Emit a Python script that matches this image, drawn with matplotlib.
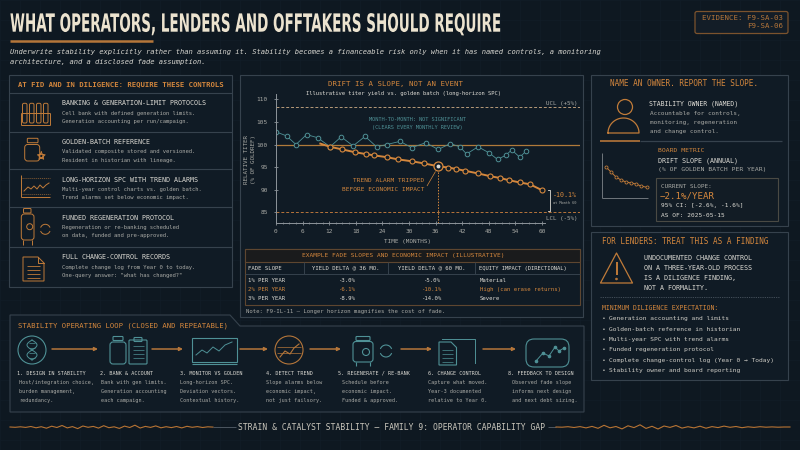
import numpy as np
import matplotlib
matplotlib.use('Agg')
import matplotlib.pyplot as plt
from matplotlib import patches, patheffects, transforms

# ---- values ----
mtm_months = [0, 2.4, 4.5, 6.9, 9.4, 12.2, 14.7, 17.4, 20.1, 22.7, 25, 28, 30.6, 33.8,
              36.6, 39.3, 41.5, 43, 45.6, 48, 50, 51.8, 53.2, 55, 56.4]
mtm_titer = [102.8, 101.9, 100.0, 102.2, 101.5, 99.5, 101.7, 99.7, 101.8, 99.5, 100.0, 100.7, 99.3, 100.4,
             98.9, 100.2, 99.5, 97.9, 99.5, 98.2, 96.7, 97.6, 98.8, 97.2, 98.5]

drift_months = [10, 12.2, 15, 17.8, 20.2, 22.1, 25, 27.6, 30.6, 33.5, 36.5, 38.9, 40.6,
                42.6, 45.6, 48.3, 50.5, 52.6, 55, 57.3, 60]
drift_titer = [100.2, 99.5, 98.9, 98.3, 97.9, 97.6, 97.2, 96.7, 96.3, 95.8, 95.2, 94.9, 94.6,
               94.2, 93.6, 93.0, 92.6, 92.1, 91.6, 91.2, 89.9]

alarm_month = 36.5
alarm_titer = 95.2
ucl_level = 108.3
gold_level = 100.0
lcl_level = 85.0
x_ticks = [0, 6, 12, 18, 24, 30, 36, 42, 48, 54, 60]
y_ticks = [85, 90, 95, 100, 105, 110]

table_cols = ['FADE SLOPE', 'YIELD DELTA @ 36 MO.', 'YIELD DELTA @ 60 MO.', 'EQUITY IMPACT (DIRECTIONAL)']
fade_slopes = ['1% PER YEAR', '2% PER YEAR', '3% PER YEAR']
delta_36 = ['-3.0%', '-6.1%', '-8.9%']
delta_60 = ['-5.0%', '-10.1%', '-14.0%']
equity_impact = ['Material', 'High (can erase returns)', 'Severe']

controls = [
    ('BANKING & GENERATION-LIMIT PROTOCOLS', 'Cell bank with defined generation limits.', 'Generation accounting per run/campaign.'),
    ('GOLDEN-BATCH REFERENCE', 'Validated composite stored and versioned.', 'Resident in historian with lineage.'),
    ('LONG-HORIZON SPC WITH TREND ALARMS', 'Multi-year control charts vs. golden batch.', 'Trend alarms set below economic impact.'),
    ('FUNDED REGENERATION PROTOCOL', 'Regeneration or re-banking scheduled', 'on data, funded and pre-approved.'),
    ('FULL CHANGE-CONTROL RECORDS', 'Complete change log from Year 0 to today.', 'One-query answer: "what has changed?"'),
]

loop_steps = [
    ('1. DESIGN IN STABILITY', ['Host/integration choice,', 'burden management,', 'redundancy.']),
    ('2. BANK & ACCOUNT', ['Bank with gen limits.', 'Generation accounting', 'each campaign.']),
    ('3. MONITOR VS GOLDEN', ['Long-horizon SPC.', 'Deviation vectors.', 'Contextual history.']),
    ('4. DETECT TREND', ['Slope alarms below', 'economic impact,', 'not just failsory.']),
    ('5. REGENERATE / RE-BANK', ['Schedule before', 'economic impact.', 'Funded & approved.']),
    ('6. CHANGE CONTROL', ['Capture what moved.', 'Year-3 documented', 'relative to Year 0.']),
    ('8. FEEDBACK TO DESIGN', ['Observed fade slope', 'informs next design', 'and next debt sizing.']),
]

diligence_items = [
    'Generation accounting and limits',
    'Golden-batch reference in historian',
    'Multi-year SPC with trend alarms',
    'Funded regeneration protocol',
    'Complete change-control log (Year 0 \u2192 Today)',
    'Stability owner and board reporting',
]

wave_left = [0, 0.3, -0.2, 0.4, -0.5, 0.8, -0.3, 1.2, -0.8, 0.5, -1.5, 0.9, -0.4, 1.6, -1.0, 0.3,
             -0.6, 1.1, -1.3, 0.7, -0.2, 1.4, -0.9, 0.5, -1.8, 1.0, -0.6, 0.4, -1.1, 0.8, -0.3, 0.6,
             -0.5, 0.9, -0.7, 0.3, -0.4, 0.5, -0.2, 0.1]
wave_right = [0, 0.2, -0.3, 0.5, -0.4, 0.9, -0.6, 1.3, -1.7, 0.8, -0.5, 1.9, -1.2, 0.6, -2.2, 1.4,
              -0.7, 2.0, -1.0, 0.4, -1.5, 1.1, -0.3, 0.9, -0.8, 1.2, -0.4, 0.6, -0.9, 0.3, -0.5, 0.7,
              -0.2, 0.4, -0.3, 0.2, -0.1, 0.2, 0, 0]

# ---- colours ----
BG = '#0e1821'
PANEL = '#101b25'
EDGE = '#36424d'
ORANGE = '#d4873d'
ORANGE_D = '#b5763a'
CREAM = '#ece3cf'
WHITE = '#dedcd5'
GRAY = '#a9aaa5'
TEAL = '#4f9196'
MONO = ['DejaVu Sans Mono', 'DejaVu Sans']

fig = plt.figure(figsize=(8, 4.5), dpi=100)
fig.patch.set_facecolor(BG)
bg = fig.add_axes([0, 0, 1, 1])
bg.set_xlim(0, 800)
bg.set_ylim(450, 0)
bg.axis('off')
bg.set_zorder(0)


def txt(x, y, s, size, color=WHITE, ha='left', va='center', **kw):
    return bg.text(x, y, s, fontsize=size, color=color, ha=ha, va=va, family=MONO, **kw)


def line(xs, ys, c=EDGE, lw=0.8, ls='-', z=2):
    bg.plot(xs, ys, color=c, lw=lw, ls=ls, zorder=z, solid_capstyle='butt')


def rect(x0, y0, x1, y1, ec=EDGE, fc='none', lw=0.8, z=1):
    bg.add_patch(patches.Rectangle((x0, y0), x1 - x0, y1 - y0, ec=ec, fc=fc, lw=lw, zorder=z))


def rrect(x0, y0, x1, y1, r, ec, fc='none', lw=0.8, z=3):
    bg.add_patch(patches.FancyBboxPatch((x0, y0), x1 - x0, y1 - y0, boxstyle='round,pad=0,rounding_size=%g' % r,
                                        ec=ec, fc=fc, lw=lw, zorder=z))


def circ(cx, cy, r, ec, fc='none', lw=0.8, z=3):
    bg.add_patch(patches.Circle((cx, cy), r, ec=ec, fc=fc, lw=lw, zorder=z))


class Stretch(patheffects.AbstractPathEffect):
    # stretches glyphs about the baseline (condensed headline look)
    def __init__(self, sx=1.0, sy=1.0):
        super().__init__()
        self.sx, self.sy = sx, sy

    def draw_path(self, renderer, gc, tpath, affine, rgbFace=None):
        renderer.draw_path(gc, tpath, transforms.Affine2D().scale(self.sx, self.sy) + affine, rgbFace)


# faint blueprint grid
for gx in range(0, 801, 20):
    line([gx, gx], [0, 450], c='#121e29', lw=0.4, z=0)
for gy in range(0, 451, 20):
    line([0, 800], [gy, gy], c='#121e29', lw=0.4, z=0)

# ---- header ----
title = bg.text(10, 31.7, 'WHAT OPERATORS, LENDERS AND OFFTAKERS SHOULD REQUIRE', fontsize=10,
                family='DejaVu Sans', weight='bold', color=CREAM, ha='left', va='baseline')
line([10, 153], [40.7, 40.7], c=ORANGE_D, lw=1.8)
txt(10, 51.7, 'Underwrite stability explicitly rather than assuming it. Stability becomes a financeable '
    'risk only when it has named controls, a monitoring', 5.1, color='#d6d5cf', style='oblique')
txt(10, 61.7, 'architecture, and a disclosed fade assumption.', 5.1, color='#d6d5cf', style='oblique')
rrect(695, 11.5, 788, 33.5, 2, '#7c532d', fc='#131d27', lw=0.9)
txt(783, 17.5, 'EVIDENCE: F9-SA-03', 5.3, color=ORANGE_D, ha='right')
txt(783, 26.5, 'F9-SA-06', 5.3, color=ORANGE_D, ha='right')

# ---- left panel: controls ----
rect(9, 75, 232, 287, fc=PANEL)
txt(120.5, 84, 'AT FID AND IN DILIGENCE: REQUIRE THESE CONTROLS', 5.2, color=ORANGE, ha='center', weight='bold')
row_tops = [93, 132, 169, 207, 247]
for yy in row_tops:
    line([9, 232], [yy, yy])
title_y = [103, 142, 179.5, 217.5, 257]
for (t, d1, d2), ty in zip(controls, title_y):
    txt(62, ty, t, 4.75, color=WHITE)
    txt(62, ty + 10, d1, 4.0, color=GRAY)
    txt(62, ty + 18.5, d2, 4.0, color=GRAY)

OC = '#c07b39'
# tubes in a rack
for tx in [22.5, 29.5, 36.5, 43.5]:
    rrect(tx, 103.3, tx + 4.5, 123, 1.5, OC, lw=0.7)
line([20.5, 49.7], [113, 113], c=OC, lw=0.7)
line([20.5, 49.7], [125, 125], c=OC, lw=0.7)
line([20.5, 20.5], [113, 125], c=OC, lw=0.7)
line([49.7, 49.7], [113, 125], c=OC, lw=0.7)
# bottle with star
rrect(27.3, 138.3, 38, 142.7, 0.8, OC, lw=0.7)
rrect(24.7, 144.5, 39.7, 161, 3, OC, lw=0.7)
star_ang = np.linspace(-np.pi / 2, 3.5 * np.pi, 11)
star_r = np.array([4, 1.7] * 5 + [4])
bg.plot(41.3 + star_r * np.cos(star_ang), 156 + star_r * np.sin(star_ang), color=OC, lw=0.7, zorder=3)
# trend chart
line([20.7, 20.7], [175, 197.3], c=OC, lw=0.7)
line([20.7, 50], [197.3, 197.3], c=OC, lw=0.7)
line([22, 50], [178, 178], c=OC, lw=0.4, ls=(0, (2, 1.5)))
line([22, 50], [194, 194], c=OC, lw=0.4, ls=(0, (2, 1.5)))
bg.plot([24, 28, 31, 34, 37, 40, 43, 46, 49], [191, 187, 189, 186, 189, 185, 188, 185, 183], color=OC, lw=0.7, zorder=3)
# reactor + refresh
rrect(23.5, 208.5, 31, 213, 0.8, OC, lw=0.7)
rrect(21.3, 214, 34, 240, 3, OC, lw=0.7)
circ(29.7, 226.7, 3, OC, lw=0.7)
line([23, 23], [240, 245], c=OC, lw=0.7)
line([32, 32], [240, 245], c=OC, lw=0.7)
bg.add_patch(patches.Arc((45.3, 229.3), 10, 10, theta1=20, theta2=160, ec=OC, lw=0.7, zorder=3))
bg.add_patch(patches.Arc((45.3, 229.3), 10, 10, theta1=200, theta2=340, ec=OC, lw=0.7, zorder=3))
# document
bg.add_patch(patches.Polygon([(23, 257), (38, 257), (44, 263), (44, 281), (23, 281)], closed=True,
                             ec=OC, fc='none', lw=0.7, zorder=3))
bg.plot([38, 38, 44], [257, 263, 263], color=OC, lw=0.7, zorder=3)
for ly in [266, 270, 274, 278]:
    line([27, 40], [ly, ly], c=OC, lw=0.6)

# ---- middle panel: drift chart ----
rect(240, 75, 583, 317, fc=PANEL)
txt(395.5, 84, 'DRIFT IS A SLOPE, NOT AN EVENT', 5.3, color=ORANGE, ha='center')
txt(403.6, 94, 'Illustrative titer yield vs. golden batch (long-horizon SPC)', 4.0, color=WHITE, ha='center')

ax = fig.add_axes([276 / 800, 1 - 222.7 / 450, 304 / 800, (222.7 - 93.9) / 450])
ax.set_zorder(1)
ax.patch.set_visible(False)
ax.set_xlim(0, 68.6)
ax.set_ylim(82.7, 111.2)
for s in ['top', 'right']:
    ax.spines[s].set_visible(False)
for s in ['left', 'bottom']:
    ax.spines[s].set_color('#8d949a')
    ax.spines[s].set_linewidth(0.7)
ax.spines['bottom'].set_bounds(0, 60.8)
ax.set_xticks(x_ticks)
ax.set_xticks(np.arange(0, 61, 1.5), minor=True)
ax.set_yticks(y_ticks)
ax.tick_params(axis='both', which='major', labelsize=4.4, labelcolor=GRAY, color='#8d949a',
               length=2.5, width=0.6, direction='inout')
ax.tick_params(axis='x', which='minor', length=1.8, width=0.5, direction='inout', color='#8d949a')
ax.tick_params(axis='x', pad=3)
ax.tick_params(axis='y', pad=4.5)
for lab in ax.get_xticklabels() + ax.get_yticklabels():
    lab.set_family(MONO)

ax.axhline(ucl_level, color='#b79a79', lw=0.7, ls=(0, (3, 2)))
ax.axhline(lcl_level, color='#b8743a', lw=0.7, ls=(0, (3, 2)))
ax.axhline(gold_level, color='#b07a3a', lw=0.9)
ax.plot(mtm_months, mtm_titer, color=TEAL, lw=0.6, marker='o', ms=3.3, mfc=PANEL, mec=TEAL, mew=0.7)
ax.plot(drift_months, drift_titer, color=ORANGE, lw=1.4, marker='o', ms=3.6, mfc=PANEL, mec=ORANGE,
        mew=0.8, markevery=list(range(1, len(drift_months))))
ax.plot([alarm_month, alarm_month], [82.7, alarm_titer], color=ORANGE, lw=0.7, ls=(0, (1.5, 1.5)))
ax.plot([alarm_month], [alarm_titer], marker='o', ms=6.5, mfc=PANEL, mec=ORANGE, mew=0.9)
ax.plot([alarm_month], [alarm_titer], marker='o', ms=1.8, mfc=WHITE, mec=WHITE)
ax.plot([61.4, 61.8, 61.8, 61.4], [drift_titer[-1], drift_titer[-1], lcl_level + 0.2, lcl_level + 0.2],
        color=WHITE, lw=0.6)

txt(417.5, 119.3, 'MONTH-TO-MONTH: NOT SIGNIFICANT', 3.8, color=TEAL, ha='center')
txt(417.5, 127.3, '(CLEARS EVERY MONTHLY REVIEW)', 3.8, color=TEAL, ha='center')
txt(424, 181, 'TREND ALARM TRIPPED', 4.4, color=ORANGE, ha='right')
txt(424, 189.3, 'BEFORE ECONOMIC IMPACT', 4.4, color=ORANGE, ha='right')
line([427, 435.5], [186, 171.5], c=ORANGE, lw=0.5, z=3)
txt(578, 103.3, 'UCL (+5%)', 4.2, color=GRAY, ha='right')
txt(578, 218.7, 'LCL (-5%)', 4.2, color=GRAY, ha='right')
txt(553, 195, '-10.1%', 4.8, color=ORANGE)
txt(553, 202.7, 'at Month 60', 2.6, color=GRAY)
txt(407.5, 242, 'TIME (MONTHS)', 4.3, color=GRAY, ha='center')
txt(247, 159, 'RELATIVE TITER', 4.2, color=GRAY, ha='center', rotation=90)
txt(254, 159, '(% OF GOLDREF)', 4.2, color=GRAY, ha='center', rotation=90)

# table
rect(245, 249.3, 580, 305, ec='#5e4630', fc='none', lw=0.8, z=2)
rect(245, 249.3, 580, 261.7, ec='#5e4630', fc='#1a1b1c', lw=0.8, z=2)
line([245, 580], [274.3, 274.3], c=EDGE, lw=0.7)
for cx in [304.3, 388.3, 475]:
    line([cx, cx], [261.7, 274.3], c=EDGE, lw=0.7)
txt(403.5, 255.7, 'EXAMPLE FADE SLOPES AND ECONOMIC IMPACT (ILLUSTRATIVE)', 4.4, color=ORANGE, ha='center')
txt(248, 268.3, table_cols[0], 4.1, color=WHITE)
txt(346, 268.3, table_cols[1], 4.1, color=WHITE, ha='center')
txt(431.5, 268.3, table_cols[2], 4.1, color=WHITE, ha='center')
txt(479, 268.3, table_cols[3], 4.0, color=WHITE)
row_y = [280, 289.3, 298.8]
for i in range(3):
    c = ORANGE if i == 1 else WHITE
    txt(248, row_y[i], fade_slopes[i], 4.1, color=c)
    txt(346, row_y[i], delta_36[i], 4.1, color=c, ha='center')
    txt(431.5, row_y[i], delta_60[i], 4.1, color=c, ha='center')
    txt(480, row_y[i], equity_impact[i], 4.1, color=c)
txt(246, 311.7, 'Note: F9-IL-11 \u2014 Longer horizon magnifies the cost of fade.', 4.1, color=GRAY)

# ---- right top panel ----
rect(591, 75, 788, 226, fc=PANEL)
txt(610, 84, 'NAME AN OWNER. REPORT THE SLOPE.', 5.6, color=ORANGE)
circ(625, 107, 7.5, OC, lw=0.9)
ang = np.linspace(np.pi, 2 * np.pi, 40)
bx = list(623.5 + 15.5 * np.cos(ang)) + [639, 608, 608]
by = list(133 + 15 * np.sin(ang)) + [133, 133, 133]
bg.plot(bx, by, color=OC, lw=0.9, zorder=3)
txt(649, 104, 'STABILITY OWNER (NAMED)', 4.7, color=WHITE)
txt(650, 114, 'Accountable for controls,', 4.3, color=GRAY)
txt(650, 122.7, 'monitoring, regeneration', 4.3, color=GRAY)
txt(650, 131.3, 'and change control.', 4.3, color=GRAY)
line([640, 782], [140.7, 140.7], c=EDGE, lw=0.9)
line([600, 640], [140.7, 140.7], c=ORANGE_D, lw=1.2)
txt(658, 150.7, 'BOARD METRIC', 4.6, color=ORANGE)
txt(658, 161, 'DRIFT SLOPE (ANNUAL)', 4.8, color=WHITE)
txt(658, 170, '(% OF GOLDEN BATCH PER YEAR)', 4.6, color=GRAY)
line([602, 602], [153, 198], c='#6f767c', lw=0.7)
line([602, 648], [198, 198], c='#6f767c', lw=0.7)
bg.plot([605.7, 611, 616, 621, 626, 631, 636, 641, 646.7], [166.7, 172, 177, 180, 182, 183, 184, 186, 187.3],
        color=OC, lw=0.7, marker='o', ms=2.2, mfc=PANEL, mec=OC, mew=0.6, zorder=3)
rect(656, 178, 778, 220.5, ec='#4a4a44', fc='#121c25', lw=0.8, z=2)
txt(661, 186, 'CURRENT SLOPE:', 4.3, color=GRAY)
txt(660, 195.8, '\u22122.1%/YEAR', 6.6, color=ORANGE)
txt(661, 206, '95% CI: [-2.6%, -1.6%]', 4.4, color=WHITE)
txt(661, 215.3, 'AS OF: 2025-05-15', 4.4, color=WHITE)

# ---- right bottom panel ----
rect(591, 232, 788, 380, fc=PANEL)
txt(601.7, 242, 'FOR LENDERS: TREAT THIS AS A FINDING', 5.5, color=ORANGE)
bg.add_patch(patches.Polygon([(616.5, 253), (600.5, 283), (632.5, 283)], closed=True, ec=OC, fc='none',
                             lw=0.9, zorder=3, joinstyle='round'))
line([616.5, 616.5], [262, 275], c=OC, lw=1.4)
circ(616.5, 279, 0.9, OC, fc=OC, lw=0.5)
for i, s in enumerate(['UNDOCUMENTED CHANGE CONTROL', 'ON A THREE-YEAR-OLD PROCESS',
                       'IS A DILIGENCE FINDING,', 'NOT A FORMALITY.']):
    txt(644.3, 258 + 10 * i, s, 4.75, color=WHITE)
line([600, 780], [297.3, 297.3], c='#4a5560', lw=0.6, ls=(0, (1.5, 1.2)))
txt(601.5, 308, 'MINIMUM DILIGENCE EXPECTATION:', 4.7, color=ORANGE)
for i, s in enumerate(diligence_items):
    yy = 318.7 + 10.4 * i
    txt(602, yy, '\u2022', 4.5, color=GRAY)
    txt(609, yy, s, 4.5, color='#cfcdc6')

# ---- loop panel ----
bg.add_patch(patches.Polygon([(10, 315), (230, 315), (240, 326), (584, 326), (584, 412), (10, 412)],
                             closed=True, ec=EDGE, fc=PANEL, lw=0.8, zorder=1))
txt(18.3, 325.7, 'STABILITY OPERATING LOOP (CLOSED AND REPEATABLE)', 5.2, color=ORANGE)
label_x = [17.3, 100, 180, 265.7, 338.3, 427.7, 507.7]
desc_x = [19, 100.7, 180, 265.7, 342, 427.7, 511.7]
for (lab, desc), lx, dx in zip(loop_steps, label_x, desc_x):
    txt(lx, 373.3, lab, 3.7, color=WHITE)
    for j, d in enumerate(desc):
        txt(dx, 382.3 + 9 * j, d, 3.7, color=GRAY)

for x0, x1 in [(52, 98), (152, 183), (240, 268), (310, 341), (401, 432), (483, 516)]:
    bg.annotate('', xy=(x1, 349), xytext=(x0, 349),
                arrowprops=dict(arrowstyle='-|>', color=ORANGE_D, lw=1.1, mutation_scale=5,
                                shrinkA=0, shrinkB=0), zorder=3)

# step icons
circ(32, 350, 14, TEAL)
hy = np.linspace(340, 360, 30)
ph = (hy - 340) / 20 * 2 * np.pi
bg.plot(32 + 5 * np.sin(ph), hy, color=TEAL, lw=0.7, zorder=3)
bg.plot(32 - 5 * np.sin(ph), hy, color=TEAL, lw=0.7, zorder=3)
for ry in [342.5, 347.5, 352.5, 357.5]:
    line([29, 35], [ry, ry], c=TEAL, lw=0.5)
rrect(113, 336.5, 123, 340.5, 0.8, TEAL)
rrect(110, 342, 126, 364, 3, TEAL)
rrect(129, 340, 147, 364, 1, TEAL)
rrect(134, 337.5, 142, 341.5, 0.8, TEAL)
for ly in [346, 350, 354, 358]:
    line([132.5, 143.5], [ly, ly], c=TEAL, lw=0.5)
rect(191.7, 338.3, 236.7, 361.5, ec=TEAL, lw=0.8, z=3)
line([191.7, 236.7], [363.5, 363.5], c=TEAL, lw=0.8)
bg.plot([196, 202, 207, 213, 219, 225, 232], [355, 350, 353, 347, 351, 345, 342], color=TEAL, lw=0.7, zorder=3)
circ(289, 350, 14, ORANGE_D)
line([277, 301], [347, 347], c=ORANGE_D, lw=0.5)
line([277, 301], [353, 353], c=ORANGE_D, lw=0.5)
bg.plot([280, 285, 290, 294, 299], [357, 351, 354, 348, 344], color=ORANGE_D, lw=0.8, zorder=3)
rrect(356, 336.5, 370, 340.5, 0.8, TEAL)
rrect(353, 341.5, 373, 362, 3, TEAL)
circ(366, 352, 3.5, TEAL)
line([356, 356], [362, 366], c=TEAL)
line([370, 370], [362, 366], c=TEAL)
bg.add_patch(patches.Arc((386, 351), 12, 12, theta1=20, theta2=160, ec=TEAL, lw=0.8, zorder=3))
bg.add_patch(patches.Arc((386, 351), 12, 12, theta1=200, theta2=340, ec=TEAL, lw=0.8, zorder=3))
bg.add_patch(patches.Polygon([(439, 342), (451, 342), (456.5, 347.5), (456.5, 365), (439, 365)], closed=True,
                             ec=TEAL, fc='none', lw=0.8, zorder=3))
for ly in [350, 354, 358, 362]:
    line([442, 453], [ly, ly], c=TEAL, lw=0.5)
bg.plot([441.7, 475, 475], [339.3, 339.3, 363], color=TEAL, lw=0.7, zorder=3)
rrect(526, 339, 569, 367, 8, TEAL)
bg.plot([536, 543, 549, 555, 559, 564], [361, 353, 356, 347, 351, 348], color=TEAL, lw=0.7,
        marker='o', ms=1.6, mfc=TEAL, mec=TEAL, zorder=3)

# ---- footer ----
bg.plot(np.linspace(10, 213, len(wave_left)), 427 + np.array(wave_left), color='#b87434', lw=0.8, zorder=2)
line([213, 236], [427, 427], c='#56606a', lw=0.6)
line([548, 556], [427, 427], c='#56606a', lw=0.6)
bg.plot(np.linspace(556, 790, len(wave_right)), 427 + np.array(wave_right), color='#b87434', lw=0.8, zorder=2)
txt(392, 427, 'STRAIN & CATALYST STABILITY \u2014 FAMILY 9: OPERATOR CAPABILITY GAP', 5.8,
    color='#c9c6bc', ha='center')

# headline: fit the width with the font size, then stretch glyphs up to the reference cap height
renderer = fig.canvas.get_renderer()
for _ in range(2):
    w = title.get_window_extent(renderer=renderer).width
    title.set_fontsize(title.get_fontsize() * 489.0 / w)
cap_px = 0.729 * title.get_fontsize() * 100 / 72
title.set_path_effects([Stretch(1.0, 18.3 / cap_px)])

fig.savefig('out.png', dpi=100, facecolor=BG)
